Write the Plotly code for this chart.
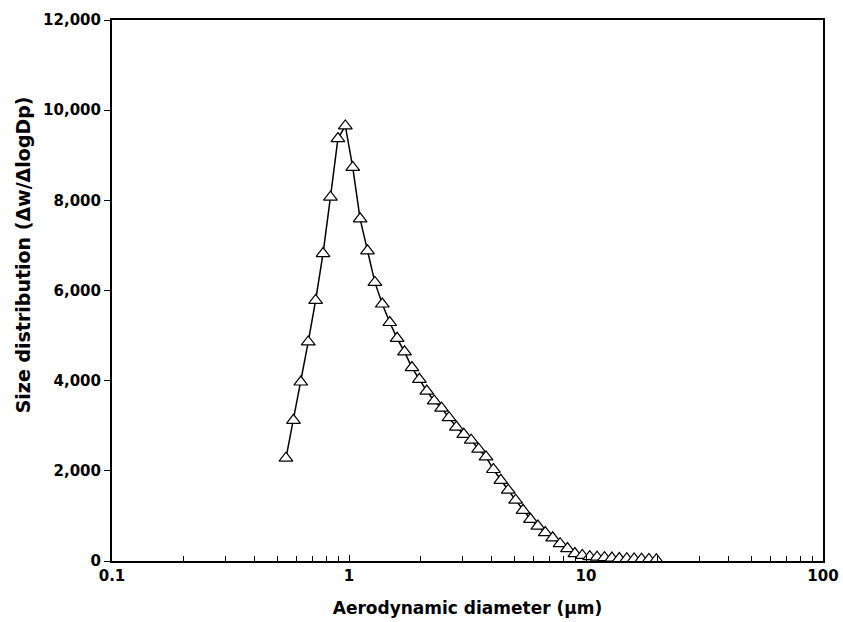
import plotly.graph_objects as go

diameter_um = [0.542, 0.583, 0.626, 0.673, 0.723, 0.777, 0.835, 0.898, 0.965, 1.037,
               1.114, 1.197, 1.286, 1.382, 1.486, 1.596, 1.715, 1.843, 1.981, 2.129,
               2.288, 2.458, 2.642, 2.839, 3.051, 3.278, 3.523, 3.786, 4.068, 4.371,
               4.698, 5.048, 5.425, 5.829, 6.264, 6.732, 7.234, 7.774, 8.354, 8.977,
               9.647, 10.37, 11.14, 11.97, 12.86, 13.82, 14.86, 15.96, 17.15, 18.43, 19.81]
size_dist = [2280, 3120, 3970, 4860, 5780, 6820, 8070, 9370, 9650, 8730,
             7590, 6880, 6180, 5700, 5290, 4940, 4640, 4290, 4030, 3770,
             3550, 3390, 3180, 2970, 2810, 2680, 2480, 2310, 2030, 1790,
             1570, 1350, 1125, 925, 775, 630, 515, 385, 275, 165,
             125, 95, 85, 75, 65, 55, 50, 45, 40, 35, 30]

x_major = [0.1, 1, 10, 100]
x_major_text = ["0.1", "1", "10", "100"]
x_minor = [m * d for d in (0.1, 1, 10) for m in range(2, 10)]
y_ticks = [0, 2000, 4000, 6000, 8000, 10000, 12000]
x_title = "Aerodynamic diameter (µm)"
y_title = "Size distribution (Δw/ΔlogDp)"

fig = go.Figure()
fig.add_trace(go.Scatter(
    x=diameter_um, y=size_dist, mode="lines+markers",
    line=dict(color="black", width=1.5),
    marker=dict(symbol="triangle-up", size=12, color="white",
                line=dict(color="black", width=1.2)),
    showlegend=False, hoverinfo="skip",
))

font_family = "DejaVu Sans, sans-serif"
fig.update_layout(
    width=843, height=622,
    margin=dict(l=112, r=20, t=20, b=61),
    plot_bgcolor="white", paper_bgcolor="white",
    font=dict(family=font_family, color="black", size=15),
)
fig.update_xaxes(
    type="log", range=[-1, 2], automargin=False,
    tickvals=x_major, ticktext=x_major_text, ticklabeloverflow="allow",
    ticks="inside", ticklen=6, tickwidth=1, tickcolor="black",
    minor=dict(tickvals=x_minor, ticks="inside", ticklen=5, tickwidth=1, tickcolor="black", showgrid=False),
    showline=True, linecolor="black", linewidth=2, mirror=True,
    showgrid=False, zeroline=False,
    tickfont=dict(family=font_family, size=15, weight="bold"),
    title=dict(text=x_title, font=dict(family=font_family, size=17, weight="bold"), standoff=18),
)
fig.update_yaxes(
    range=[0, 12000], tickvals=y_ticks, tickformat=",d", automargin=False,
    ticks="outside", ticklen=6, tickwidth=1, tickcolor="black",
    showline=True, linecolor="black", linewidth=2, mirror=True,
    showgrid=False, zeroline=False,
    tickfont=dict(family=font_family, size=15, weight="bold"),
)
fig.add_annotation(
    text=y_title, textangle=-90, showarrow=False,
    xref="paper", yref="paper", x=0, y=0.565,
    xanchor="center", yanchor="middle", xshift=-89,
    font=dict(family=font_family, size=19, weight="bold", color="black"),
)

fig.write_html("out.html", config={"displayModeBar": False},
               post_script="document.body.style.margin='0px';document.body.style.overflow='hidden';")
